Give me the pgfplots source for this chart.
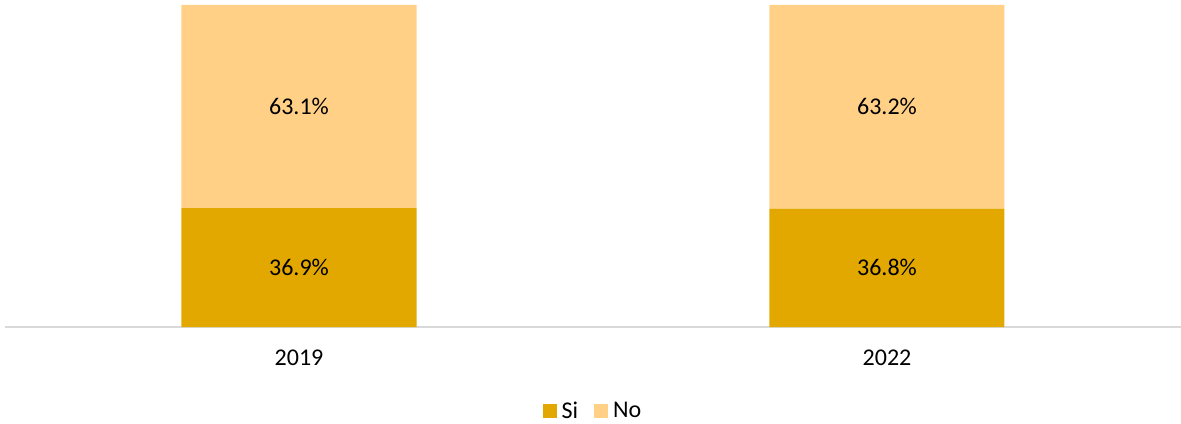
\documentclass[border=0pt]{standalone}
\usepackage{pgfplots}
\pgfplotsset{compat=1.18}
\usepackage{fontspec}
\setmainfont{Carlito}
\definecolor{si}{HTML}{E2A800}
\definecolor{no}{HTML}{FFD086}
\definecolor{axc}{HTML}{D9D9D9}
\begin{document}
\begin{tikzpicture}
\path[use as bounding box] (-5bp,-97bp) rectangle (1176bp,327bp);
\begin{axis}[
  scale only axis, width=1176bp, height=322bp,
  xmin=-0.5, xmax=1.5, ymin=0, ymax=100,
  ybar stacked, bar width=235bp,
  axis y line=none,
  axis x line*=bottom,
  x axis line style={axc, line width=1.5bp},
  xtick={0,1}, xticklabels={2019,2022},
  major tick length=0pt,
  xticklabel style={anchor=center, yshift=-31bp, font=\fontsize{24bp}{28bp}\selectfont},
  /pgf/number format/assume math mode=true,
  clip=false,
  visualization depends on={rawy \as \rawy},
  point meta=rawy,
  nodes near coords={\pgfmathprintnumber[fixed,fixed zerofill,precision=1,assume math mode=true]{\pgfplotspointmeta}\%},
  every node near coord/.append style={anchor=center, font=\fontsize{24bp}{28bp}\selectfont, text=black},
  legend columns=2,
  legend style={draw=none, at={(0.5,{-84/322})}, anchor=center, font=\fontsize{24bp}{28bp}\selectfont,
    /tikz/every even column/.style={column sep=14bp}, inner sep=0pt},
  legend image code/.code={\fill[#1] (0bp,-7bp) rectangle (14bp,7bp);},
]
\addplot[fill=si, draw=none] coordinates {(0,36.9) (1,36.8)};
\addplot[fill=no, draw=none] coordinates {(0,63.1) (1,63.2)};
\legend{\hspace{3bp}Si,\hspace{3bp}No}
\end{axis}
\end{tikzpicture}
\end{document}
